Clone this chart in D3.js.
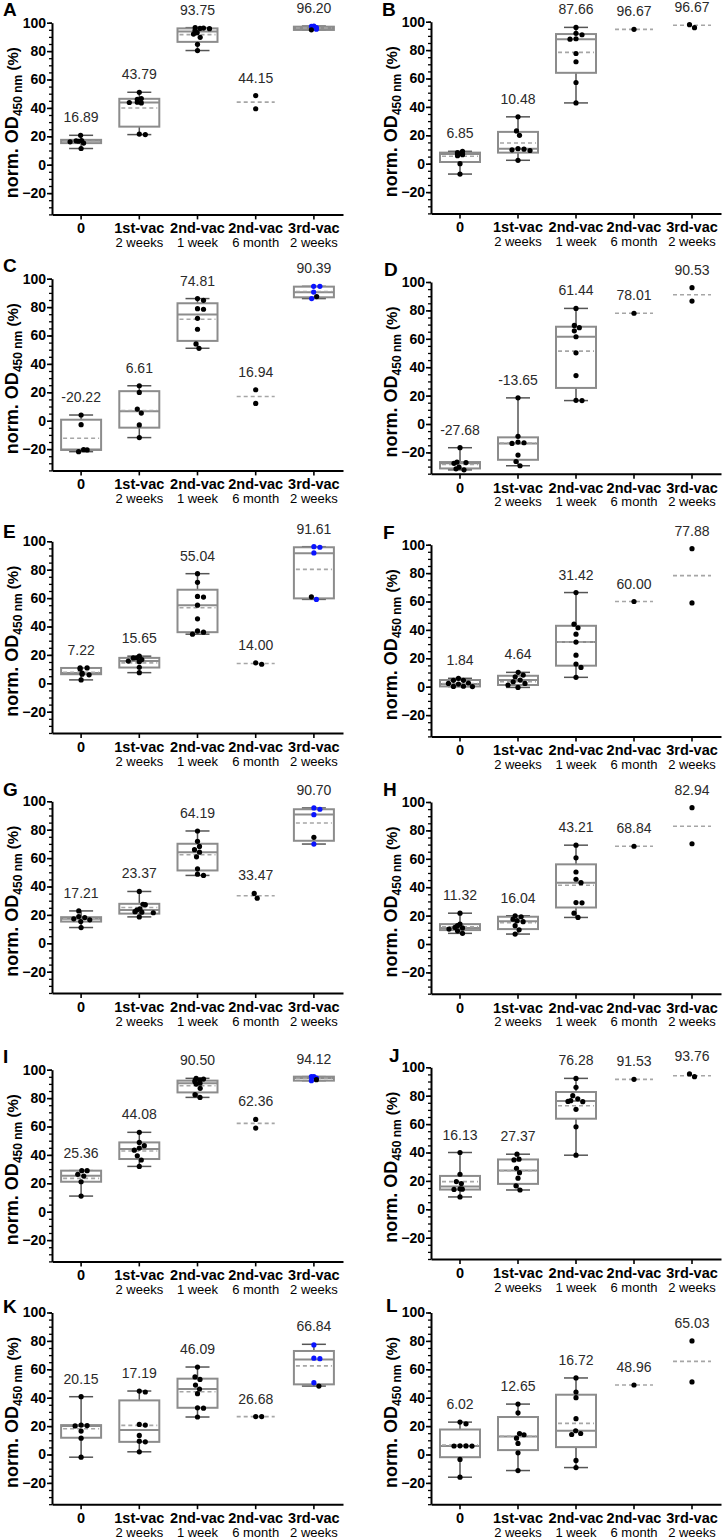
<!DOCTYPE html>
<html><head><meta charset="utf-8">
<script src="https://cdn.jsdelivr.net/npm/d3@7"></script>
<style>body{margin:0;background:#fff}svg{display:block}</style>
</head><body>
<svg id="c" width="723" height="1539"></svg>
<script>
// ---------- DATA ----------
const panelIds = ["A","B","C","D","E","F","G","H","I","J","K","L"];
const groupNames = ["0","1st-vac","2nd-vac","2nd-vac","3rd-vac"];
const groupSub = ["","2 weeks","1 week","6 month","2 weeks"];
const yMajorTicks = [-20,0,20,40,60,80,100];
const yDomain = [-35,100];

const labelTexts = [
  ["16.89","43.79","93.75","44.15","96.20"],
  ["6.85","10.48","87.66","96.67","96.67"],
  ["-20.22","6.61","74.81","16.94","90.39"],
  ["-27.68","-13.65","61.44","78.01","90.53"],
  ["7.22","15.65","55.04","14.00","91.61"],
  ["1.84","4.64","31.42","60.00","77.88"],
  ["17.21","23.37","64.19","33.47","90.70"],
  ["11.32","16.04","43.21","68.84","82.94"],
  ["25.36","44.08","90.50","62.36","94.12"],
  ["16.13","27.37","76.28","91.53","93.76"],
  ["20.15","17.19","46.09","26.68","66.84"],
  ["6.02","12.65","16.72","48.96","65.03"]
];

// black dots per panel / group
const dotValues = [
  [[20.7,17.0,16.8,16.5,16.1,15.2,11.4],[51.0,46.6,46.0,44.0,43.8,43.5,21.6,21.2],[96.5,96.2,96.0,95.8,94.5,93.0,92.0,89.7,84.8,80.4],[48.7,39.4],[95.0]],
  [[8.7,7.8,7.0,7.0,6.3,5.6,0.0,-7.3],[33.0,23.1,20.0,10.6,10.2,9.8,9.3,2.4],[96.0,91.8,90.8,88.0,87.7,77.6,71.8,57.2,42.8],[94.6],[97.9,95.8]],
  [[4.0,-2.8,-20.4,-21.8,-20.6],[24.6,19.9,8.2,5.4,-3.0,-11.9],[86.0,84.8,78.9,78.5,72.1,64.4,54.1,51.0],[21.8,12.2],[87.4]],
  [[-16.7,-26.8,-27.2,-27.68,-30.4,-31.6,-32.3],[18.4,-8.7,-12.7,-13.2,-13.65,-21.9,-26.4,-29.4],[81.4,69.4,67.8,65.6,61.44,50.1,34.1,16.7,16.5],[78.0],[96.0,86.6]],
  [[10.8,10.8,10.1,7.22,6.4,6.0,2.4],[19.1,18.0,17.9,16.7,15.65,15.2,11.3,7.5],[77.2,71.1,61.2,60.7,55.04,45.4,36.9,36.0,34.6],[14.4,13.4],[60.9]],
  [[5.9,4.5,4.5,2.6,2.3,1.84,0.3,0.2,0.1],[10.1,8.2,7.0,4.64,3.5,2.3,1.2,-0.5],[66.3,44.0,41.5,37.0,31.42,22.2,15.9,13.6,6.6],[60.0],[97.2,59.0]],
  [[22.8,18.8,18.1,17.21,16.5,15.3,11.1],[36.5,27.5,27.2,24.2,23.37,22.3,21.9,21.5,18.6],[79.1,71.8,68.2,65.9,64.19,60.9,52.5,48.7,47.8],[35.1,31.8],[74.6]],
  [[21.7,14.0,12.9,11.7,11.32,10.5,9.3,7.5],[19.9,19.2,17.5,16.4,15.7,12.9,10.0,7.0],[69.6,60.7,50.7,45.6,43.21,29.2,29.0,21.7,18.7],[68.84],[96.0,70.6]],
  [[28.9,28.9,26.3,25.1,21.1,11.0],[55.9,48.8,46.5,44.8,43.3,39.4,36.4,31.9],[93.9,93.4,92.8,92.3,91.5,90.5,89.9,86.9,82.4,80.5],[65.0,58.9],[93.0]],
  [[40.0,24.7,19.5,18.1,14.4,14.2,14.0,8.7],[38.8,35.3,34.8,28.9,25.8,21.9,16.5,13.6],[92.2,85.9,80.0,77.8,76.5,76.0,75.8,70.4,58.1,38.1],[91.5],[93.4,95.3]],
  [[40.7,20.7,20.4,20.15,16.5,11.5,-1.9],[44.7,44.0,21.2,20.7,13.4,9.4,8.9,1.9],[61.6,54.6,52.9,48.9,46.09,42.8,32.9,32.6,26.4],[26.7,26.7],[48.2]],
  [[22.8,21.6,6.1,6.02,6.0,5.9,-3.5,-16.0],[35.5,29.4,14.8,13.9,11.5,7.8,1.2,-11.3],[53.9,44.0,40.0,25.2,16.72,14.8,14.1,-4.2,-9.2],[48.96],[80.0,51.1]]
];

// blue dots (3rd-vac group only)
const blueDotValues = [
  [97.6,96.6,95.4,97.4], [], [94.6,94.6,90.6,86.0], [], [95.8,96.2,91.8,59.1], [],
  [95.3,94.4,90.6,69.9], [], [95.1,94.1,92.3,95.1], [], [77.2,67.8,67.5,50.6], []
];

// box stats [min, q1, median, q3, max]; null = no box
const boxStats = [
  [[11.4,15.2,16.89,17.5,20.7],[21.2,26.8,43.79,46.4,51.0],[80.4,86.5,93.75,96.0,96.5],null,[95.0,94.9,96.2,97.2,97.6]],
  [[-7.3,1.2,6.85,7.8,8.7],[2.4,7.8,10.48,22.4,33.0],[42.8,64.0,87.66,91.3,96.0],null,null],
  [[-21.8,-20.6,-20.22,0.7,4.0],[-11.9,-4.9,6.61,20.8,24.6],[51.0,56.2,74.81,82.7,86.0],null,[86.0,86.9,90.39,94.4,94.6]],
  [[-32.3,-31.3,-27.68,-26.8,-16.7],[-29.4,-25.2,-13.65,-9.4,18.4],[16.5,25.4,61.44,68.5,81.4],null,null],
  [[2.4,6.4,7.22,10.8,10.8],[7.5,11.1,15.65,17.9,19.1],[34.6,36.0,55.04,65.9,77.2],null,[59.1,59.8,91.61,95.8,96.2]],
  [[0.1,0.2,1.84,4.7,5.9],[-0.5,1.2,4.64,7.7,10.1],[6.6,14.8,31.42,42.9,66.3],null,null],
  [[11.1,15.3,17.21,18.4,22.8],[18.6,20.9,23.37,27.8,36.5],[47.8,51.3,64.19,70.1,79.1],null,[69.9,72.2,90.70,94.4,95.3]],
  [[7.5,9.8,11.32,14.0,21.7],[7.0,10.5,16.04,19.2,19.9],[18.7,25.7,43.21,56.1,69.6],null,null],
  [[11.0,21.1,25.36,28.9,28.9],[31.9,37.1,44.08,48.8,55.9],[80.5,84.0,90.50,92.3,93.9],null,[92.3,92.3,94.12,95.1,95.1]],
  [[8.7,13.9,16.13,23.5,40.0],[13.6,17.9,27.37,35.1,38.8],[38.1,63.8,76.28,82.6,92.2],null,null],
  [[-1.9,11.8,20.15,20.7,40.7],[1.9,8.9,17.19,38.1,44.7],[26.4,32.9,46.09,53.4,61.6],null,[48.2,49.4,66.84,72.9,77.6]],
  [[-16.0,-1.9,6.02,17.6,22.8],[-11.3,3.1,12.65,26.4,35.5],[-9.2,5.2,16.72,42.1,53.9],null,null]
];

// mean (dashed line) per group
const meanValues = [
  [16.3,39.9,91.6,44.05,96.3],
  [5.2,14.6,78.4,94.6,97.5],
  [-12.4,7.2,71.4,17.0,91.0],
  [-28.5,-13.4,51.3,78.0,91.0],
  [7.8,14.4,53.2,13.9,80.2],
  [2.3,3.5,31.4,60.0,78.2],
  [17.2,25.2,62.4,33.5,84.7],
  [12.1,15.0,41.4,68.84,82.9],
  [23.5,42.7,88.7,62.2,93.9],
  [19.5,27.1,72.9,91.5,94.1],
  [18.1,20.5,44.2,26.7,62.4],
  [6.6,12.9,21.9,48.96,65.6]
];

// ---------- LAYOUT ----------
const layout = [
  {x0:52, x1:343, y100:22.7,  lx:3,   ly:16},
  {x0:431,x1:721, y100:21.7,  lx:382, ly:16},
  {x0:52, x1:343, y100:278.7, lx:3,   ly:272},
  {x0:431,x1:721, y100:282,   lx:384, ly:276},
  {x0:52, x1:343, y100:541.3, lx:3,   ly:538},
  {x0:431,x1:721, y100:544.7, lx:383, ly:539},
  {x0:52, x1:343, y100:801.3, lx:3,   ly:796},
  {x0:431,x1:721, y100:802,   lx:383, ly:796},
  {x0:52, x1:343, y100:1069.7,lx:3,   ly:1063},
  {x0:431,x1:721, y100:1067.3,lx:389, ly:1062},
  {x0:52, x1:343, y100:1312.5,lx:3,   ly:1313},
  {x0:431,x1:721, y100:1312.5,lx:386, ly:1312}
];
const UNIT = 1.42;
const FONT = "'Liberation Sans', Arial, Helvetica, sans-serif";
const BOX_W = 40, CAP_W = 24, SOLO_W = 38, R = 2.6;
const BOX_COLOR = "#8c8c8c", WHISK_COLOR = "#555", MEAN_COLOR = "#a6a6a6";

const svg = d3.select("#c").style("font-family", FONT);

function swarm(points, y) {
  const step = 1.0, minD = 5.3;
  const pts = points.map(p => ({...p, py: y(p.v), px: 0}))
                    .sort((a,b) => a.py - b.py);
  const placed = [];
  pts.forEach(p => {
    let best = 0;
    for (let k = 0; k < 60; k++) {
      const cands = k === 0 ? [0] : [k*step, -k*step];
      let ok = null;
      for (const c of cands) {
        if (placed.every(q => Math.hypot(q.px - c, q.py - p.py) >= minD)) { ok = c; break; }
      }
      if (ok !== null) { best = ok; break; }
    }
    p.px = best; placed.push(p);
  });
  const n = placed.length, seen = new Array(n).fill(false);
  for (let i = 0; i < n; i++) {
    if (seen[i]) continue;
    const stack = [i], cl = []; seen[i] = true;
    while (stack.length) {
      const a = stack.pop(); cl.push(a);
      for (let j = 0; j < n; j++) if (!seen[j] &&
        Math.hypot(placed[a].px - placed[j].px, placed[a].py - placed[j].py) < minD + 0.6) { seen[j] = true; stack.push(j); }
    }
    if (cl.length > 1) {
      const m = d3.mean(cl, k => placed[k].px);
      cl.forEach(k => placed[k].px -= m);
    }
  }
  return placed;
}

panelIds.forEach((id, p) => {
  const L = layout[p];
  const y = d3.scaleLinear().domain(yDomain).range([L.y100 + UNIT*(yDomain[1]-yDomain[0]), L.y100]);
  const x = d3.scaleBand().domain(d3.range(groupNames.length)).range([L.x0, L.x1]);
  const g = svg.append("g");
  const axisY = y(yDomain[0]);

  groupNames.forEach((gn, i) => {
    const cx = x(i) + x.bandwidth()/2;
    const b = boxStats[p][i];
    if (b) {
      const [mn, q1, md, q3, mx] = b;
      g.append("line").attr("x1",cx).attr("x2",cx).attr("y1",y(q3)).attr("y2",y(mx))
        .attr("stroke",WHISK_COLOR).attr("stroke-width",1.5);
      g.append("line").attr("x1",cx).attr("x2",cx).attr("y1",y(q1)).attr("y2",y(mn))
        .attr("stroke",WHISK_COLOR).attr("stroke-width",1.5);
      [mn, mx].forEach(v => g.append("line").attr("x1",cx-CAP_W/2).attr("x2",cx+CAP_W/2)
        .attr("y1",y(v)).attr("y2",y(v)).attr("stroke",WHISK_COLOR).attr("stroke-width",1.5));
      g.append("rect").attr("x",cx-BOX_W/2).attr("width",BOX_W)
        .attr("y",y(q3)).attr("height",Math.max(0.5,y(q1)-y(q3)))
        .attr("fill","#fff").attr("stroke",BOX_COLOR).attr("stroke-width",2);
      g.append("line").attr("x1",cx-BOX_W/2).attr("x2",cx+BOX_W/2).attr("y1",y(md)).attr("y2",y(md))
        .attr("stroke",BOX_COLOR).attr("stroke-width",2);
      g.append("line").attr("x1",cx-BOX_W/2+2).attr("x2",cx+BOX_W/2-2)
        .attr("y1",y(meanValues[p][i])).attr("y2",y(meanValues[p][i]))
        .attr("stroke",MEAN_COLOR).attr("stroke-width",1.6).attr("stroke-dasharray","4,3");
    } else {
      g.append("line").attr("x1",cx-SOLO_W/2).attr("x2",cx+SOLO_W/2)
        .attr("y1",y(meanValues[p][i])).attr("y2",y(meanValues[p][i]))
        .attr("stroke",MEAN_COLOR).attr("stroke-width",1.6).attr("stroke-dasharray","4,3");
    }
    const pts = dotValues[p][i].map(v => ({v, c:"#000"}));
    if (i === 4) blueDotValues[p].forEach(v => pts.push({v, c:"#0a14ff"}));
    const placed = swarm(pts, y);
    g.selectAll(null).data(placed).enter().append("circle")
      .attr("cx", d => cx + d.px).attr("cy", d => d.py).attr("r", R).attr("fill", d => d.c);
    const allV = pts.map(d => d.v).concat(b ? [b[4]] : []);
    const top = d3.max(allV);
    g.append("text").attr("x", cx).attr("y", y(top) - 13).attr("text-anchor","middle")
      .attr("font-size", 14).attr("fill","#2a2a2a").text(labelTexts[p][i]);
  });

  // y axis
  const minor = d3.range(yDomain[0], yDomain[1]+1, 5);
  const gy = g.append("g").attr("transform", `translate(${L.x0},0)`);
  gy.call(d3.axisLeft(y).tickValues(minor).tickSize(3).tickSizeOuter(0).tickFormat(""));
  gy.select(".domain").attr("stroke","#000").attr("stroke-width",2);
  gy.selectAll(".tick line").attr("stroke","#000").attr("stroke-width",1.3);
  const gy2 = g.append("g").attr("transform", `translate(${L.x0},0)`);
  gy2.call(d3.axisLeft(y).tickValues(yMajorTicks).tickSize(5).tickPadding(1).tickSizeOuter(0));
  gy2.select(".domain").remove();
  gy2.selectAll(".tick line").attr("stroke","#000").attr("stroke-width",1.6);
  gy2.selectAll(".tick text").attr("font-size",14).attr("font-weight","bold")
     .attr("font-family",FONT).attr("fill","#000");

  // x axis
  const gx = g.append("g").attr("transform", `translate(0,${axisY})`);
  gx.call(d3.axisBottom(x).tickSize(5).tickSizeOuter(0).tickFormat(""));
  gx.select(".domain").attr("stroke","#000").attr("stroke-width",2);
  gx.selectAll(".tick line").attr("stroke","#000").attr("stroke-width",1.6);
  groupNames.forEach((gn, i) => {
    const cx = x(i) + x.bandwidth()/2;
    g.append("text").attr("x",cx).attr("y",axisY+19).attr("text-anchor","middle")
      .attr("font-size",14.5).attr("font-weight","bold").attr("fill","#000").text(gn);
    if (groupSub[i]) g.append("text").attr("x",cx).attr("y",axisY+32.5).attr("text-anchor","middle")
      .attr("font-size",13).attr("fill","#000").text(groupSub[i]);
  });

  // y label
  const yl = g.append("text").attr("transform", `translate(${L.x0-34},${L.y100+100}) rotate(-90)`)
    .attr("text-anchor","middle").attr("font-weight","bold").attr("fill","#000");
  yl.append("tspan").attr("font-size",18).text("norm. OD");
  yl.append("tspan").attr("font-size",12).attr("dy",4).text("450 nm");
  yl.append("tspan").attr("font-size",15).attr("dy",-4).text(" (%)");

  // panel letter
  g.append("text").attr("x",L.lx).attr("y",L.ly).attr("font-size",19).attr("font-weight","bold")
    .attr("fill","#000").text(id);
});
</script>
</body></html>
